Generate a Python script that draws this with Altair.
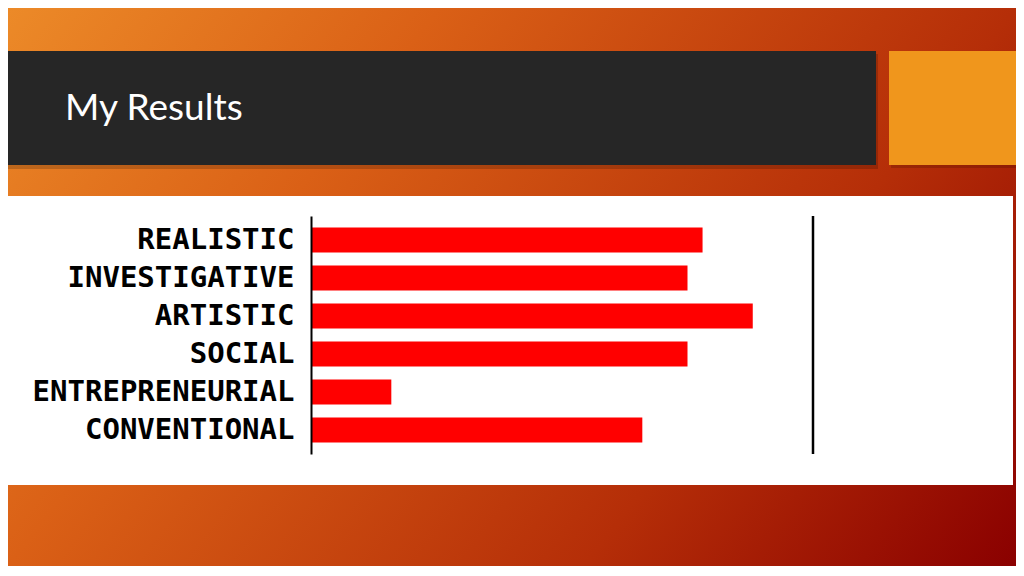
import altair as alt
import pandas as pd

# ---- data ----
categories = ["REALISTIC", "INVESTIGATIVE", "ARTISTIC", "SOCIAL",
              "ENTREPRENEURIAL", "CONVENTIONAL"]
scores = [78, 75, 88, 75, 16, 66]
score_max = 100
slide_title = "My Results"

df = pd.DataFrame({"category": categories, "score": scores})
one = pd.DataFrame({"k": [0]})

W, H = 1008, 558

bg_gradient = {
    "gradient": "linear",
    "x1": 0, "y1": 0, "x2": 1.207, "y2": 0.517,
    "stops": [
        {"offset": 0.0, "color": "#EC8A28"},
        {"offset": 0.3, "color": "#DA6016"},
        {"offset": 0.7, "color": "#B52E08"},
        {"offset": 1.0, "color": "#8A0000"},
    ],
}

base = alt.Chart(one)

background = base.mark_rect(fill=bg_gradient, stroke=None).encode(
    x=alt.value(0), x2=alt.value(W), y=alt.value(0), y2=alt.value(H)
)

shadow_bar = base.mark_rect(fill="#000000", opacity=0.18).encode(
    x=alt.value(0), x2=alt.value(870), y=alt.value(46), y2=alt.value(161)
)
title_bar = base.mark_rect(fill="#262626").encode(
    x=alt.value(0), x2=alt.value(868), y=alt.value(43), y2=alt.value(157)
)
shadow_sq = base.mark_rect(fill="#000000", opacity=0.15).encode(
    x=alt.value(883), x2=alt.value(W), y=alt.value(46), y2=alt.value(160)
)
orange_sq = base.mark_rect(fill="#F0961C").encode(
    x=alt.value(881), x2=alt.value(W), y=alt.value(43), y2=alt.value(157)
)
title_text = base.mark_text(
    align="left", baseline="alphabetic", font="Lato", fontSize=37,
    color="#FFFFFF"
).encode(x=alt.value(57), y=alt.value(112), text=alt.value(slide_title))

panel = base.mark_rect(fill="#FFFFFF").encode(
    x=alt.value(0), x2=alt.value(1005), y=alt.value(188), y2=alt.value(477)
)

x_scale = alt.Scale(domain=[0, score_max], range=[303, 805], nice=False, zero=True)
y_scale = alt.Scale(domain=categories, range=[208, 446],
                    paddingInner=0.34, paddingOuter=0.3)

bars = alt.Chart(df).mark_bar(color="#FF0000").encode(
    x=alt.X("score:Q", scale=x_scale, axis=None),
    y=alt.Y("category:N", scale=y_scale, sort=categories,
            axis=alt.Axis(title=None, ticks=False, grid=False,
                          labelFont="DejaVu Sans Mono", labelFontWeight="bold",
                          labelFontSize=29, labelColor="#000000",
                          labelLimit=0, labelPadding=17,
                          domainColor="#000000",
                          domainWidth=2, offset=-303, zindex=2)),
)

right_rule = base.mark_rule(color="#000000", strokeWidth=2.5).encode(
    x=alt.datum(score_max, type="quantitative"),
    y=alt.value(208), y2=alt.value(446),
)

chart = alt.layer(
    background, shadow_bar, title_bar, shadow_sq, orange_sq, title_text,
    panel, bars, right_rule
).properties(
    width=W, height=H, padding=0, autosize=alt.AutoSizeParams(type="none"),
    background="#FFFFFF"
).configure_view(stroke=None)

chart.save("out.html", embed_options={"renderer": "svg", "actions": False})
